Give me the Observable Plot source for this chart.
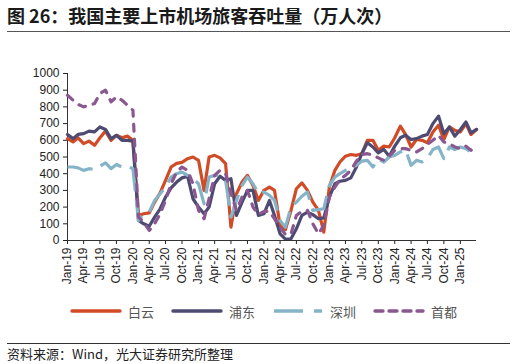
<!DOCTYPE html>
<html><head><meta charset="utf-8">
<script src="https://cdn.jsdelivr.net/npm/d3@7"></script>
<script src="https://cdn.jsdelivr.net/npm/@observablehq/plot@0.6"></script>
<style>
html,body{margin:0;padding:0;background:#fff;}
body{width:516px;height:364px;position:relative;overflow:hidden;font-family:"Noto Sans CJK SC","Noto Sans",sans-serif;}
#title{position:absolute;left:7px;top:2px;font-size:18px;font-weight:bold;color:#1a1a1a;white-space:nowrap;}
#tline{position:absolute;left:7px;top:31px;width:503px;height:0;border-top:1.4px solid #555;}
#chart{position:absolute;left:0;top:40px;}
#legend{position:absolute;top:302px;left:70px;height:18px;display:flex;}
.item{display:flex;align-items:center;width:101px;font-size:13px;color:#555;}
.item svg{margin-right:6px;}
#fline{position:absolute;left:7px;top:343px;width:503px;height:0;border-top:1px solid #333;}
#foot{position:absolute;left:7px;top:344px;font-size:13px;color:#222;white-space:nowrap;}
</style></head>
<body>
<div id="title">图 26：我国主要上市机场旅客吞吐量（万人次）</div>
<div id="tline"></div>
<div id="chart"></div>
<div id="legend"></div>
<div id="fline"></div>
<div id="foot">资料来源：Wind，光大证券研究所整理</div>
<script>
// categories: monthly, Jan-2019 .. Apr-2025 (76 months)
const months = d3.utcMonth.range(new Date(Date.UTC(2019,0,1)), new Date(Date.UTC(2025,4,1)));
const seriesNames = ["白云","浦东","深圳","首都"];
const baiyun = [610,590,615,580,595,570,615,655,600,630,615,625,
  600,150,160,165,230,285,360,440,462,468,490,500,
  480,300,500,510,495,460,80,280,350,390,330,240,
  300,320,300,90,65,180,310,345,300,230,180,50,
  320,420,470,505,515,510,520,600,600,540,565,560,
  615,685,635,560,605,600,585,650,690,605,680,660,
  650,700,635,665];
const pudong = [635,610,635,640,655,650,680,665,610,630,600,600,
  595,120,100,85,140,190,260,315,350,375,385,250,
  200,160,200,340,385,360,370,150,230,300,300,150,
  160,240,150,40,8,10,70,150,170,155,130,135,
  260,340,355,360,375,440,520,585,560,525,545,505,
  565,615,630,605,610,625,635,700,745,640,680,625,
  665,710,645,665];
const shenzhen = [440,440,435,420,430,425,445,465,430,455,440,445,
  430,120,160,170,240,280,320,380,400,410,390,370,
  340,220,380,390,390,360,140,240,330,380,340,280,
  290,270,240,120,80,200,230,265,290,180,185,190,
  330,380,400,420,440,450,475,480,440,490,470,500,
  510,530,545,450,480,470,490,545,560,490,560,545,
  560,550,530,550];
const capital = [870,840,815,800,810,820,880,900,830,860,840,810,
  780,140,110,60,100,160,240,340,410,440,420,340,
  180,130,250,390,420,400,280,180,260,300,200,155,
  175,175,130,80,35,40,150,175,180,100,40,90,
  260,320,365,390,420,475,515,520,510,495,480,505,
  540,550,550,540,530,550,575,600,630,590,580,560,
  550,565,540,555];
const yTicks = [0,100,200,300,400,500,600,700,800,900,1000];
const xTickMonths = months.filter((d,i)=> i%3===0 && i<=72);

const colors = ["#d14b27","#4e4b73","#85b4c9","#8a5791"];
const dashes = [null,null,"26,9","7,8"];
const caps = ["round","round","butt","round"];
const values = [baiyun,pudong,shenzhen,capital];

const marks = [
  Plot.axisY({ticks: yTicks, tickFormat: d => String(d), tickSize: 4, tickPadding: 4, fontSize: 12}),
  Plot.axisX({ticks: xTickMonths, tickFormat: d3.utcFormat("%b-%y"), tickRotate: -90, tickSize: 4, tickPadding: 3, fontSize: 12}),
  Plot.ruleX([months[0]], {stroke: "#333", strokeWidth: 1})
];
values.forEach((arr, k) => {
  const rows = arr.map((v, i) => ({date: months[i], value: v}));
  marks.push(Plot.line(rows, {x: "date", y: "value", stroke: colors[k], strokeWidth: 3.2,
    strokeDasharray: dashes[k], strokeLinecap: caps[k], strokeLinejoin: "round"}));
});
marks.push(Plot.ruleY([0], {stroke: "#333", strokeWidth: 1}));

const chart = Plot.plot({
  width: 516, height: 252,
  marginTop: 33, marginBottom: 52, marginLeft: 67, marginRight: 40,
  style: {fontFamily: "'Liberation Sans', Arial, sans-serif", fontSize: "12px", color: "#222", background: "white"},
  x: {type: "utc", domain: [months[0], months[months.length-1]], label: null},
  y: {domain: [0, 1000], label: null},
  marks
});
document.getElementById("chart").appendChild(chart);

const legend = document.getElementById("legend");
seriesNames.forEach((name, k) => {
  const item = document.createElement("div");
  item.className = "item";
  const ns = "http://www.w3.org/2000/svg";
  const svg = document.createElementNS(ns, "svg");
  svg.setAttribute("width", 52); svg.setAttribute("height", 8);
  const ln = document.createElementNS(ns, "line");
  ln.setAttribute("x1", 2); ln.setAttribute("x2", 50); ln.setAttribute("y1", 4); ln.setAttribute("y2", 4);
  ln.setAttribute("stroke", colors[k]); ln.setAttribute("stroke-width", 3.4);
  ln.setAttribute("stroke-linecap", caps[k]);
  if (dashes[k]) ln.setAttribute("stroke-dasharray", k===2 ? "29,11" : "8,6");
  svg.appendChild(ln);
  item.appendChild(svg);
  const sp = document.createElement("span");
  sp.textContent = name;
  item.appendChild(sp);
  legend.appendChild(item);
});
</script>
</body></html>
